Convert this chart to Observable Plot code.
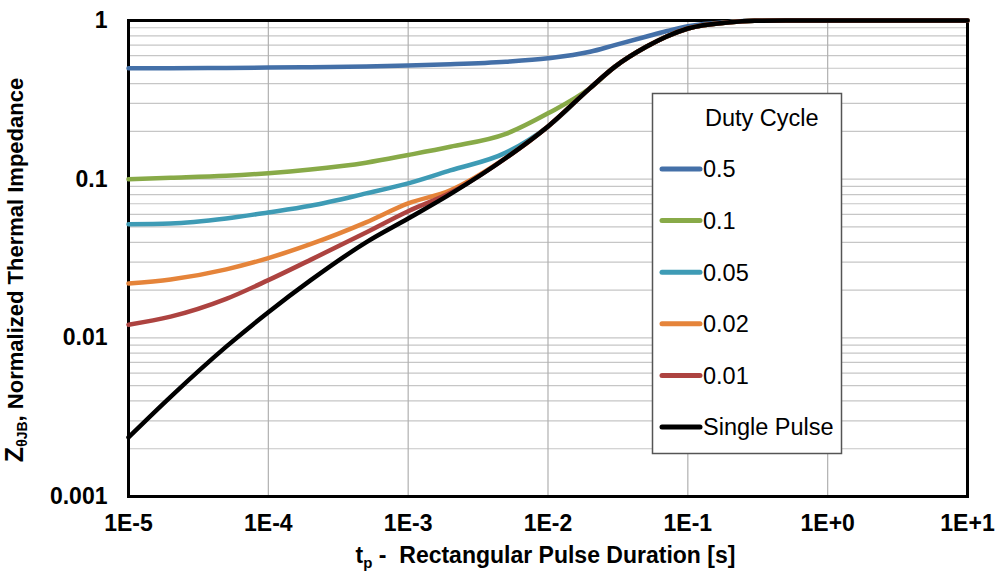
<!DOCTYPE html>
<html><head><meta charset="utf-8">
<script src="https://cdn.jsdelivr.net/npm/d3@7"></script>
<script src="https://cdn.jsdelivr.net/npm/@observablehq/plot@0.6"></script>
<style>body{margin:0;background:#fff}</style>
</head><body><div id="chart"></div>
<script>
// Pulse duration tp [s]
const pulseDuration = [1e-5,2e-5,5e-5,1e-4,2e-4,5e-4,1e-3,2e-3,5e-3,1e-2,2e-2,3e-2,5e-2,7e-2,1e-1,2e-1,3e-1,5e-1,1,10];
const seriesNames = ["0.5","0.1","0.05","0.02","0.01","Single Pulse"];
const seriesColors = ["#4470a8","#88aa48","#3e9bb5","#e5843a","#ad4340","#000000"];
const z05     = [0.5,0.5,0.502,0.505,0.508,0.513,0.52,0.53,0.55,0.578,0.635,0.70,0.79,0.855,0.92,0.98,0.997,1,1,1];
const z01     = [0.1,0.102,0.105,0.109,0.115,0.127,0.142,0.16,0.193,0.26,0.375,0.51,0.68,0.79,0.89,0.975,0.995,1,1,1];
const z005    = [0.052,0.0525,0.0565,0.0617,0.068,0.0813,0.094,0.1135,0.147,0.215,0.375,0.51,0.68,0.79,0.89,0.975,0.995,1,1,1];
const z002    = [0.022,0.0233,0.027,0.0318,0.0389,0.0534,0.0703,0.085,0.136,0.215,0.375,0.51,0.68,0.79,0.89,0.975,0.995,1,1,1];
const z001    = [0.0121,0.0136,0.0176,0.0231,0.031,0.0461,0.0628,0.082,0.136,0.215,0.375,0.51,0.68,0.79,0.89,0.975,0.995,1,1,1];
const zSingle = [0.00236,0.00425,0.0088,0.0145,0.023,0.040,0.0565,0.0805,0.136,0.215,0.375,0.51,0.68,0.79,0.89,0.975,0.995,1,1,1];
const xTicks = [1e-5,1e-4,1e-3,1e-2,1e-1,1,10];
const xTickLabels = ["1E-5","1E-4","1E-3","1E-2","1E-1","1E+0","1E+1"];
const yTicks = [0.001,0.01,0.1,1];
const yTickLabels = ["0.001","0.01","0.1","1"];
const yGridSteps = [1,2,3,4,5,6,7,8,9];
const legendTitle = "Duty Cycle";

const seriesValues = [z05, z01, z005, z002, z001, zSingle];
const rows = seriesNames.flatMap((name, i) => pulseDuration.map((t, j) => ({t, z: seriesValues[i][j], name})));
const yGrid = yTicks.slice(0, -1).flatMap(d => yGridSteps.map(k => k * d)).concat([1]);

const font = "'Liberation Sans', Arial, sans-serif";
const plot = Plot.plot({
  width: 995, height: 575,
  marginLeft: 128, marginRight: 28, marginTop: 20, marginBottom: 79,
  style: {fontFamily: font, fontWeight: "bold", color: "#000", background: "#fff", overflow: "visible"},
  x: {type: "log", domain: [1e-5, 10], axis: null},
  y: {type: "log", domain: [0.001, 1], axis: null},
  color: {domain: seriesNames, range: seriesColors},
  marks: [
    Plot.ruleY(yGrid, {stroke: "#c6c6c6", strokeWidth: 1.2}),
    Plot.ruleX(xTicks, {stroke: "#b0b0b0", strokeWidth: 1.2}),
    Plot.frame({stroke: "#000", strokeWidth: 3}),
    Plot.line(rows, {x: "t", y: "z", z: "name", stroke: "name", strokeWidth: 4.5, curve: "monotone-x", strokeLinecap: "round"}),
    Plot.text(xTicks, {x: d => d, frameAnchor: "bottom", dy: 27, lineAnchor: "middle", text: (d, i) => xTickLabels[i],
      fontSize: 23, fontWeight: "bold", fill: "#000", fontFamily: font}),
    Plot.text(yTicks, {y: d => d, frameAnchor: "left", dx: -21, textAnchor: "end", lineAnchor: "middle", text: (d, i) => yTickLabels[i],
      fontSize: 23, fontWeight: "bold", fill: "#000", fontFamily: font})
  ]
});
document.getElementById("chart").appendChild(plot);

const svg = d3.select(plot);
const xs = plot.scale("x");
const cx = (xs.apply(1e-5) + xs.apply(10)) / 2;

// X axis title
const xt = svg.append("text").attr("x", cx - 2).attr("y", 563).attr("text-anchor", "middle")
  .attr("font-family", font).attr("font-weight", "bold").attr("font-size", 23).attr("fill", "#000")
  .style("white-space", "pre");
xt.append("tspan").text("t");
xt.append("tspan").attr("font-size", 15).attr("dy", 5).text("p");
xt.append("tspan").attr("dy", -5).text(" -  Rectangular Pulse Duration [s]");

// Y axis title
const yt = svg.append("text").attr("transform", "translate(23,270) rotate(-90)").attr("text-anchor", "middle")
  .attr("font-family", font).attr("font-weight", "bold").attr("font-size", 22).attr("fill", "#000");
yt.append("tspan").attr("font-size", 25).text("Z");
yt.append("tspan").attr("font-size", 14).attr("dy", 4).text("θJB");
yt.append("tspan").attr("dy", -4).text(", Normalized Thermal Impedance");

// Legend
const lg = svg.append("g").attr("font-family", font).attr("font-weight", "normal").attr("text-anchor", "start");
lg.append("rect").attr("x", 652.5).attr("y", 93.5).attr("width", 189).attr("height", 360)
  .attr("fill", "#fff").attr("stroke", "#555").attr("stroke-width", 1.5);
lg.append("text").attr("x", 705).attr("y", 126).attr("text-anchor", "start").attr("font-size", 23.5).attr("fill", "#000").text(legendTitle);
seriesNames.forEach((name, i) => {
  const y = 169 + i * 51.6;
  lg.append("line").attr("x1", 662).attr("x2", 700).attr("y1", y).attr("y2", y)
    .attr("stroke", seriesColors[i]).attr("stroke-width", 5).attr("stroke-linecap", "round");
  lg.append("text").attr("x", 703).attr("y", y).attr("dy", "0.36em").attr("text-anchor", "start").attr("font-size", 23.5).attr("fill", "#000").text(name);
});
</script>
</body></html>
